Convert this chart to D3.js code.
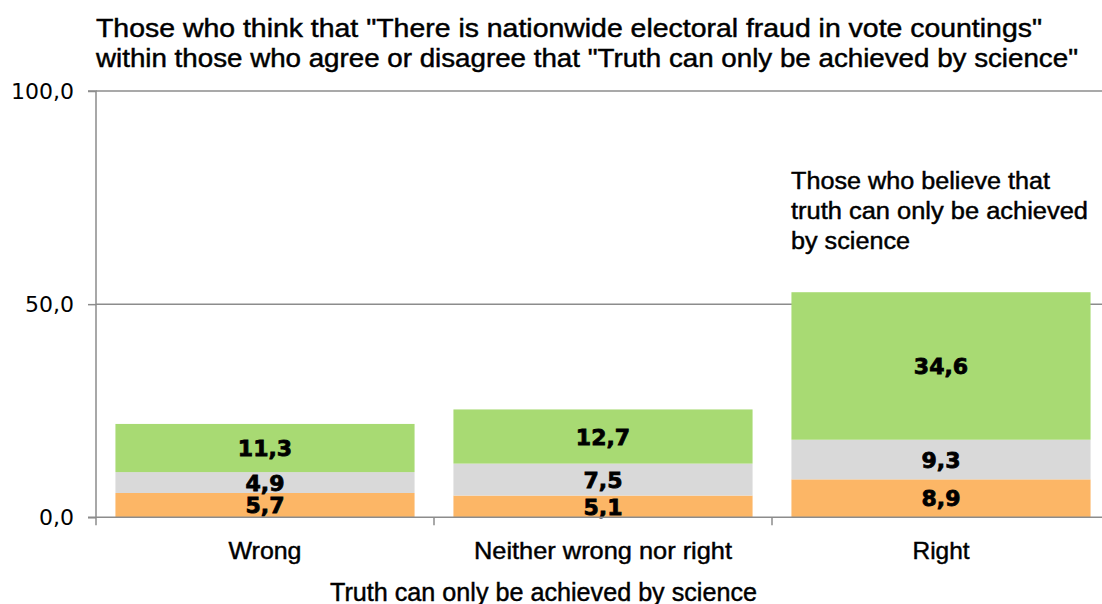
<!DOCTYPE html>
<html><head><meta charset="utf-8">
<script src="https://cdn.jsdelivr.net/npm/d3@7"></script>
<style>body{margin:0;background:#fff}svg{display:block}</style>
</head><body>
<svg id="chart" width="1102" height="604"></svg>
<script>
const categories = ["Wrong", "Neither wrong nor right", "Right"];
const seriesNames = ["Fraud: agree (orange)", "Fraud: neutral (grey)", "Fraud: top (green)"];
const orangeValues = [5.7, 5.1, 8.9];
const greyValues = [4.9, 7.5, 9.3];
const greenValues = [11.3, 12.7, 34.6];
const yTicks = [0, 50, 100];
const titleLines = ['Those who think that "There is nationwide electoral fraud in vote countings"',
                    'within those who agree or disagree that "Truth can only be achieved by science"'];
const xTitle = "Truth can only be achieved by science";
const noteLines = ["Those who believe that", "truth can only be achieved", "by science"];
const colors = ["#fcb666", "#d9d9d9", "#a8da73"];

const svg = d3.select("#chart");
const fmt = v => d3.format(".1f")(v).replace(".", ",");

const x = d3.scaleBand().domain(categories).range([96, 1110]).paddingInner(0.115).paddingOuter(0.0575);
const y = d3.scaleLinear().domain([0, 100]).range([517.3, 91]);

// gridlines
svg.append("g").selectAll("line").data(yTicks.filter(d => d > 0)).join("line")
  .attr("x1", 96).attr("x2", 1102).attr("y1", d => y(d)).attr("y2", d => y(d))
  .attr("stroke", "#8c8c8c").attr("stroke-width", 1.5);

// stacks
const rows = categories.map((c, i) => ({cat: c, s0: orangeValues[i], s1: greyValues[i], s2: greenValues[i]}));
const stack = d3.stack().keys(["s0", "s1", "s2"])(rows);
const g = svg.append("g");
stack.forEach((layer, li) => {
  g.append("g").selectAll("rect").data(layer).join("rect")
    .attr("x", d => x(d.data.cat)).attr("width", x.bandwidth())
    .attr("y", d => y(d[1])).attr("height", d => y(d[0]) - y(d[1]))
    .attr("fill", colors[li]);
});
stack.forEach((layer, li) => {
  g.append("g").selectAll("text").data(layer).join("text")
    .attr("x", d => x(d.data.cat) + x.bandwidth() / 2)
    .attr("y", d => (y(d[0]) + y(d[1])) / 2)
    .attr("dy", "0.37em")
    .attr("text-anchor", "middle")
    .style("font-family", "'DejaVu Sans', sans-serif")
    .style("font-weight", "bold").style("font-size", "22px").attr("fill", "#000")
    .attr("stroke", "#000").attr("stroke-width", 0.8)
    .text(d => fmt(d[1] - d[0]));
});

// y axis
const yAxis = d3.axisLeft(y).tickValues(yTicks).tickSize(8).tickPadding(14).tickFormat(fmt);
const ya = svg.append("g").attr("transform", "translate(96,0)").call(yAxis);
ya.select(".domain").attr("stroke", "#8c8c8c").attr("stroke-width", 1.5).attr("d", `M-8,${y(100)}H0V${y(0)}`);
ya.selectAll(".tick line").attr("stroke", "#8c8c8c").attr("stroke-width", 1.5);
ya.selectAll(".tick text").style("font-family", "'DejaVu Sans', sans-serif").style("font-size", "22px").attr("fill", "#000");

// x axis
const xa = svg.append("g").attr("transform", `translate(0,${y(0)})`);
xa.append("line").attr("x1", 88).attr("x2", 1102).attr("y1", 0).attr("y2", 0)
  .attr("stroke", "#8c8c8c").attr("stroke-width", 1.5);
const bounds = categories.map(c => x(c) - x.step() * 0.0575).concat([x(categories[2]) + x.step() * 0.9425]);
xa.selectAll("line.tk").data(bounds).join("line").attr("class", "tk")
  .attr("x1", d => d).attr("x2", d => d).attr("y1", 0).attr("y2", 8)
  .attr("stroke", "#8c8c8c").attr("stroke-width", 1.5);

const labelWidths = [73, 258, 57];
const textStyle = sel => sel.style("font-family", "'Liberation Sans', Arial, sans-serif").attr("fill", "#000")
  .attr("stroke", "#000").attr("stroke-width", 0.45)
  .attr("lengthAdjust", "spacingAndGlyphs");
svg.append("g").selectAll("text").data(categories).join("text")
  .attr("x", d => x(d) + x.bandwidth() / 2).attr("y", 559).attr("text-anchor", "middle")
  .style("font-size", "24px").call(textStyle)
  .attr("textLength", (d, i) => labelWidths[i]).text(d => d);

svg.append("text").attr("x", 543.5).attr("y", 601).attr("text-anchor", "middle")
  .style("font-size", "25px").call(textStyle).attr("textLength", 427).text(xTitle);

// title
const titleWidths = [946, 982];
svg.append("g").selectAll("text").data(titleLines).join("text")
  .attr("x", 96).attr("y", (d, i) => 37 + i * 30)
  .style("font-size", "25px").call(textStyle)
  .attr("textLength", (d, i) => titleWidths[i]).text(d => d);

// note
const noteWidths = [259, 297, 119];
svg.append("g").selectAll("text").data(noteLines).join("text")
  .attr("x", 791).attr("y", (d, i) => 189 + i * 30)
  .style("font-size", "23px").call(textStyle)
  .attr("textLength", (d, i) => noteWidths[i]).text(d => d);
</script>
</body></html>
